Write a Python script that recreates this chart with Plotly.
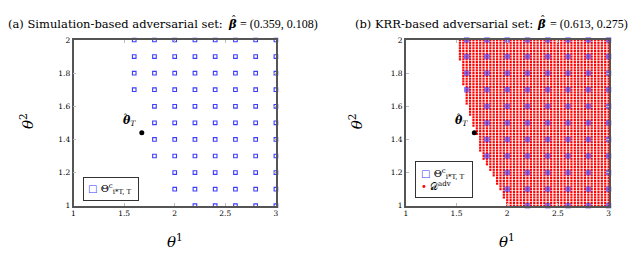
import plotly.graph_objects as go

# ---------------- data ----------------
x_ticks = [1, 1.5, 2, 2.5, 3]
x_tick_labels = ["1", "1.5", "2", "2.5", "3"]
y_ticks = [1, 1.2, 1.4, 1.6, 1.8, 2]
y_tick_labels = ["1", "1.2", "1.4", "1.6", "1.8", "2"]

# Theta^c set: coarse grid rows (y) and the first x in each row (step 0.2 up to 3)
blue_rows_y = [1.0, 1.1, 1.2, 1.3, 1.4, 1.5, 1.6, 1.7, 1.8, 1.9, 2.0]
blue_rows_xstart = [2.2, 2.0, 2.0, 1.8, 1.8, 1.8, 1.8, 1.6, 1.6, 1.6, 1.6]
blue_x_step = 0.2
x_lo, x_hi = 1.0, 3.0
y_lo, y_hi = 1.0, 2.0

# D^adv: 61x61 grid on [1,3]x[1,2]; first column index of each row (row 0 = y 1.0)
red_grid_n = 61
red_rows_start_col = ([30] * 3 + [29] * 3 + [28] * 2 + [27] * 3 + [26] * 2 + [25] * 2 +
                      [24] * 2 + [23] * 3 + [22] * 6 + [21] * 3 + [20] * 4 + [19] * 4 +
                      [18] * 7 + [17] * 9 + [16] * 8)

theta_hat_T = (1.675, 1.44)
beta_a = (0.359, 0.108)
beta_b = (0.613, 0.275)
title_a = "(a) Simulation-based adversarial set:"
title_b = "(b) KRR-based adversarial set:"

# ---------------- build point lists ----------------
blue_x, blue_y = [], []
for yv, xs in zip(blue_rows_y, blue_rows_xstart):
    k = 0
    while xs + k * blue_x_step <= x_hi + 1e-9:
        blue_x.append(round(xs + k * blue_x_step, 6))
        blue_y.append(yv)
        k += 1

red_x, red_y = [], []
dx = (x_hi - x_lo) / (red_grid_n - 1)
dy = (y_hi - y_lo) / (red_grid_n - 1)
for r, c0 in enumerate(red_rows_start_col):
    for c in range(c0, red_grid_n):
        red_x.append(x_lo + c * dx)
        red_y.append(y_lo + r * dy)

BLUE = "rgb(60,60,255)"
RED = "rgb(255,0,0)"
FONT = "DejaVu Serif"
NUMFONT = "Liberation Serif"

fig = go.Figure()

# left panel
fig.add_trace(go.Scatter(x=blue_x, y=blue_y, mode="markers", xaxis="x", yaxis="y",
                         marker=dict(symbol="square-open", size=3.6, color=BLUE,
                                     line=dict(width=1.1, color=BLUE)),
                         cliponaxis=False, showlegend=False))
fig.add_trace(go.Scatter(x=[theta_hat_T[0]], y=[theta_hat_T[1]], mode="markers",
                         xaxis="x", yaxis="y", marker=dict(size=5, color="black"),
                         cliponaxis=False, showlegend=False))

# right panel
fig.add_trace(go.Scatter(x=red_x, y=red_y, mode="markers", xaxis="x2", yaxis="y2",
                         marker=dict(symbol="square", size=2.2, color=RED, line=dict(width=0)),
                         cliponaxis=False, showlegend=False))
fig.add_trace(go.Scatter(x=blue_x, y=blue_y, mode="markers", xaxis="x2", yaxis="y2",
                         marker=dict(symbol="square", size=5.5, color=BLUE, opacity=0.6,
                                     line=dict(width=0)),
                         cliponaxis=False, showlegend=False))
fig.add_trace(go.Scatter(x=[theta_hat_T[0]], y=[theta_hat_T[1]], mode="markers",
                         xaxis="x2", yaxis="y2", marker=dict(size=5, color="black"),
                         cliponaxis=False, showlegend=False))

axis_common = dict(showgrid=False, zeroline=False, showline=True, linecolor="#555555",
                   linewidth=1.5, mirror="ticks", ticks="inside", ticklen=3,
                   tickcolor="#bbbbbb", tickwidth=1,
                   tickfont=dict(family=FONT, size=7.5, color="black"))
ydom = [1 - 200.7 / 259, 1 - 29 / 259]
fig.update_layout(
    width=640, height=259, margin=dict(l=0, r=0, t=0, b=0),
    paper_bgcolor="white", plot_bgcolor="white",
    xaxis=dict(domain=[64 / 640, 268 / 640], range=[x_lo, x_hi], tickvals=x_ticks,
               ticktext=x_tick_labels, anchor="y", **axis_common),
    yaxis=dict(domain=ydom, range=[y_lo, y_hi], tickvals=y_ticks,
               ticktext=y_tick_labels, anchor="x", **axis_common),
    xaxis2=dict(domain=[399 / 640, 603.3 / 640], range=[x_lo, x_hi], tickvals=x_ticks,
                ticktext=x_tick_labels, anchor="y2", **axis_common),
    yaxis2=dict(domain=ydom, range=[y_lo, y_hi], tickvals=y_ticks,
                ticktext=y_tick_labels, anchor="x2", **axis_common),
)

ann = []
tfont = dict(family=FONT, size=11.5, color="black")
nfont = dict(family=NUMFONT, size=12, color="black")
TY = 1 - 12 / 259


def paper_text(xpx, ypx_frac, text, anchor, font, yshift=0):
    return dict(xref="paper", yref="paper", x=xpx / 640, y=ypx_frac, text=text,
                showarrow=False, font=font, xanchor=anchor, yanchor="middle", yshift=yshift)


for title, beta, bx in ((title_a, beta_a, 224), (title_b, beta_b, 536)):
    ann.append(paper_text(bx - 7, TY, title, "right", tfont))
    ann.append(paper_text(bx, TY, "<b><i>β</i></b>", "center", tfont))
    ann.append(paper_text(bx + 1.5, TY, "ˆ", "center", dict(family=FONT, size=11, color="black"),
                          yshift=3))
    ann.append(paper_text(bx + 6, TY, "= (%.3f, %.3f)" % beta, "left", nfont))

lfont = dict(family=FONT, size=15, color="black")
for xc in (166, 501):
    ann.append(dict(xref="paper", yref="paper", x=xc / 640, y=1 - 237 / 259,
                    text="<i>θ</i><sup>1</sup>", showarrow=False, font=lfont,
                    xanchor="center", yanchor="middle"))
for xc in (17, 349):
    ann.append(dict(xref="paper", yref="paper", x=xc / 640, y=1 - 113 / 259,
                    text="<i>θ</i><sup>2</sup>", showarrow=False, font=lfont, textangle=-90,
                    xanchor="center", yanchor="middle"))
for xa, ya in (("x", "y"), ("x2", "y2")):
    ann.append(dict(xref=xa, yref=ya, x=theta_hat_T[0], y=theta_hat_T[1],
                    text="<b><i>θ</i></b><sub><i>T</i></sub>", showarrow=False,
                    font=dict(family=FONT, size=11, color="black"),
                    xanchor="right", yanchor="bottom", xshift=-4, yshift=3))
    ann.append(dict(xref=xa, yref=ya, x=theta_hat_T[0], y=theta_hat_T[1],
                    text="ˆ", showarrow=False,
                    font=dict(family=FONT, size=10, color="black"),
                    xanchor="center", yanchor="middle", xshift=-16, yshift=15))

theta_lbl = "Θ<sup>c</sup><sub>i*T, T</sub>"
sq = "<span style='color:%s;font-family:DejaVu Sans'>□</span>" % BLUE
dot = "<span style='color:%s;font-family:DejaVu Sans'>•</span>" % RED
ann.append(dict(xref="paper", yref="paper", x=74 / 640, y=1 - 171 / 259,
                text="%s %s " % (sq, theta_lbl),
                showarrow=False, font=dict(family=FONT, size=10, color="black"),
                xanchor="left", yanchor="top", align="left",
                bordercolor="#333333", borderwidth=1, borderpad=4, bgcolor="white"))
ann.append(dict(xref="paper", yref="paper", x=408 / 640, y=1 - 154 / 259,
                text="%s %s <br>%s 𝒟<sup>adv</sup>" % (sq, theta_lbl, dot),
                showarrow=False, font=dict(family=FONT, size=10, color="black"),
                xanchor="left", yanchor="top", align="left",
                bordercolor="#333333", borderwidth=1, borderpad=5, bgcolor="white"))
fig.update_layout(annotations=ann)

fig.write_html("out.html")
